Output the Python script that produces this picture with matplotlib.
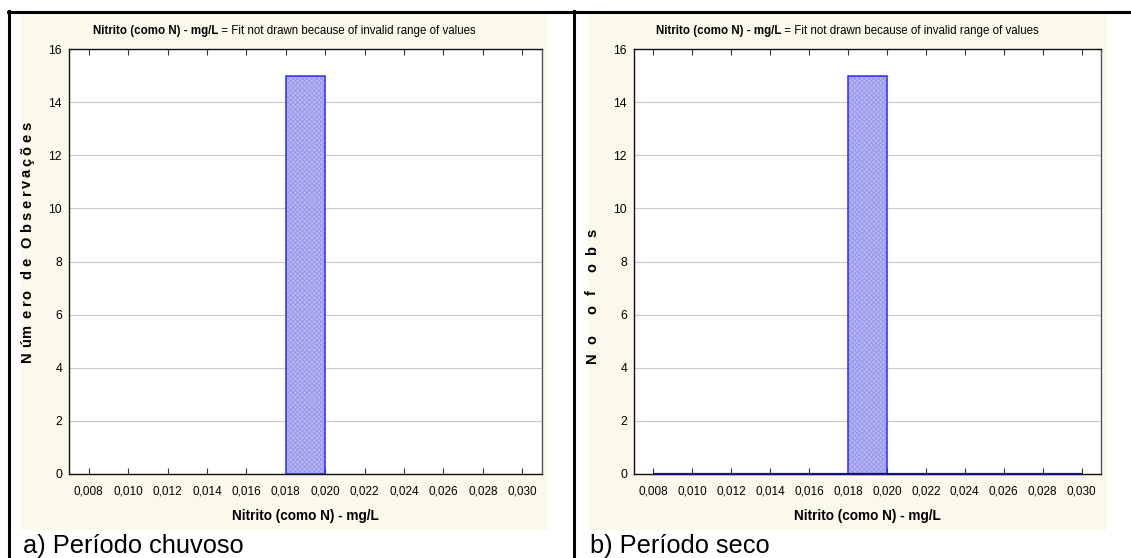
import matplotlib
matplotlib.use("Agg")
import matplotlib.pyplot as plt
from matplotlib import font_manager
from matplotlib.textpath import TextPath
from matplotlib.font_manager import FontProperties
from matplotlib.patches import Rectangle
from matplotlib.lines import Line2D
import numpy as np

# Histogram data: bin edges (mg/L) and observed counts for each period
bin_edges = [0.008, 0.010, 0.012, 0.014, 0.016, 0.018, 0.020,
             0.022, 0.024, 0.026, 0.028, 0.030]
counts_chuvoso = [0, 0, 0, 0, 0, 15, 0, 0, 0, 0, 0]
counts_seco = [0, 0, 0, 0, 0, 15, 0, 0, 0, 0, 0]
x_ticks = [0.008, 0.010, 0.012, 0.014, 0.016, 0.018, 0.020,
           0.022, 0.024, 0.026, 0.028, 0.030]
x_tick_labels = ["0,008", "0,010", "0,012", "0,014", "0,016", "0,018",
                 "0,020", "0,022", "0,024", "0,026", "0,028", "0,030"]
y_ticks = [0, 2, 4, 6, 8, 10, 12, 14, 16]

title_bold = "Nitrito (como N) - mg/L"
title_rest = " = Fit not drawn because of invalid range of values"
x_label = "Nitrito (como N) - mg/L"
y_labels = ["Número de Observações", "No of obs"]
captions = ["a) Período chuvoso", "b) Período seco"]

available = {f.name for f in font_manager.fontManager.ttflist}
narrow = "Liberation Sans Narrow" if "Liberation Sans Narrow" in available else "Liberation Sans"
regular = "Liberation Sans"

W, H = 1131, 558
DPI = 100
fig = plt.figure(figsize=(W / DPI, H / DPI), dpi=DPI)
fig.patch.set_facecolor("white")


def fx(px):
    return px / W


def fy(py):
    return 1 - py / H


CREAM = "#fdf8ec"
panels = [
    dict(bg=(21, 548), ax=(69, 542), counts=counts_chuvoso, base_edge=False,
         ylab_x=34, ylab_span=(118, 357), cap_x=23, cap_size=18.3),
    dict(bg=(588, 1107), ax=(634, 1101), counts=counts_seco, base_edge=True,
         ylab_x=599, ylab_span=(225, 358), cap_x=590, cap_size=18.3),
]
ax_top, ax_bot = 49, 474
bg_top, bg_bot = 12, 530

# table frame lines
lw_frame = 2.2
fig.add_artist(Line2D([fx(8), 1.0], [fy(11.5), fy(11.5)], color="black", lw=lw_frame))
fig.add_artist(Line2D([fx(8.5), fx(8.5)], [fy(11), 0], color="black", lw=lw_frame))
fig.add_artist(Line2D([fx(574), fx(574)], [fy(11), 0], color="black", lw=lw_frame))


def spaced_text(x_px, y_top_px, y_bot_px, s, size, weight="bold", family=None):
    """Vertical text whose letters are spread evenly between two heights."""
    fp = FontProperties(family=family, weight=weight, size=size)
    scale = DPI / 72.0
    ref = TextPath((0, 0), "..", prop=fp).get_extents().width
    widths = []
    for ch in s:
        w = TextPath((0, 0), "." + ch + ".", prop=fp).get_extents().width - ref
        widths.append(w * scale)
    spacing = ((y_bot_px - y_top_px) - sum(widths)) / (len(s) - 1)
    y = y_bot_px
    for ch, w in zip(s, widths):
        fig.text(fx(x_px), fy(y), ch, rotation=90, ha="center", va="bottom",
                 fontsize=size, fontweight=weight, family=family,
                 rotation_mode="anchor")
        y -= w + spacing


for i, p in enumerate(panels):
    bx0, bx1 = p["bg"]
    fig.add_artist(Rectangle((fx(bx0), fy(bg_bot)), fx(bx1 - bx0), (bg_bot - bg_top) / H,
                             facecolor=CREAM, edgecolor="none", zorder=0))
    x0, x1 = p["ax"]
    ax = fig.add_axes([fx(x0), fy(ax_bot), fx(x1 - x0), (ax_bot - ax_top) / H])
    ax.set_facecolor("white")
    ax.set_xlim(0.007, 0.031)
    ax.set_ylim(0, 16)

    lefts = np.array(bin_edges[:-1])
    widths = np.diff(bin_edges)
    heights = np.array(p["counts"])
    # hatched fill
    ax.bar(lefts, heights, width=widths, align="edge", facecolor="#bcbcf6",
           edgecolor="#9d9deb", hatch="xxxxxxx", linewidth=0, zorder=2)
    # bar outlines
    for l, w, h in zip(lefts, widths, heights):
        if h > 0:
            ax.add_patch(Rectangle((l, 0), w, h, fill=False, edgecolor="#2a2aff",
                                   linewidth=1.1, zorder=3))
    if p["base_edge"]:
        ax.plot([bin_edges[0], bin_edges[-1]], [0, 0], color="#14147a",
                lw=1.6, zorder=4, solid_capstyle="butt", clip_on=False)

    ax.set_yticks(y_ticks)
    ax.set_yticklabels([str(v) for v in y_ticks], family=narrow, fontsize=8.8)
    ax.set_xticks(x_ticks)
    ax.set_xticklabels(x_tick_labels, family=narrow, fontsize=8.5)
    ax.tick_params(axis="y", length=0, pad=5)
    ax.tick_params(axis="x", direction="in", length=4, width=0.8, pad=8,
                   top=True, color="#333333")
    ax.grid(axis="y", color="#c9c9c9", lw=0.8, zorder=1)
    ax.set_axisbelow(True)
    for side in ["left", "bottom", "top"]:
        ax.spines[side].set_color("#111111")
        ax.spines[side].set_linewidth(1.0)
    ax.spines["right"].set_color("#555555")
    ax.spines["right"].set_linewidth(1.0)

    # title: bold variable name followed by regular message
    cx = (bx0 + bx1) / 2
    t1 = fig.text(0, fy(31), title_bold, fontsize=8.3, fontweight="bold",
                  family=narrow, va="center", ha="left")
    t2 = fig.text(0, fy(31), title_rest, fontsize=8.3, family=narrow,
                  va="center", ha="left")
    r = fig.canvas.get_renderer()
    w1 = t1.get_window_extent(r).width
    w2 = t2.get_window_extent(r).width
    start = cx - (w1 + w2) / 2
    t1.set_x(fx(start))
    t2.set_x(fx(start + w1))

    # x axis label
    fig.text(fx((x0 + x1) / 2), fy(516), x_label, fontsize=9.8, fontweight="bold",
             family=narrow, ha="center", va="center")
    # y axis label with letter spacing
    spaced_text(p["ylab_x"], p["ylab_span"][0], p["ylab_span"][1],
                y_labels[i], 10.5, family=regular)

    # panel caption
    fig.text(fx(p["cap_x"]), fy(553), captions[i],
             fontsize=p["cap_size"], family=regular, ha="left", va="baseline")

fig.savefig("out.png", dpi=DPI, facecolor="white")
